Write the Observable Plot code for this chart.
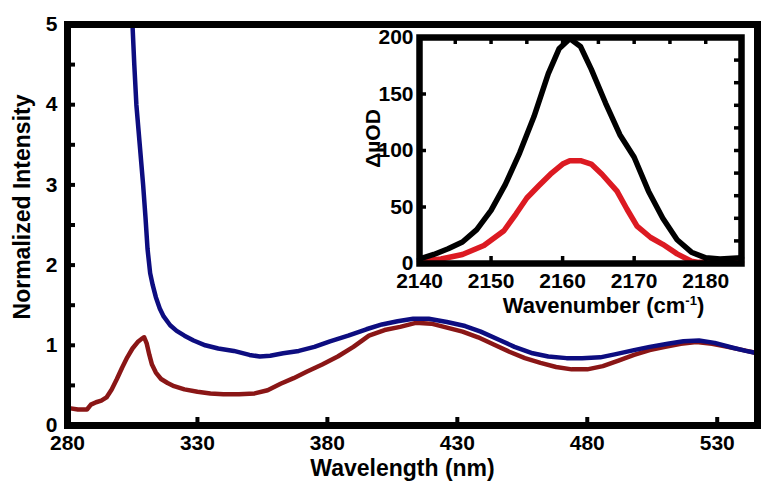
<!DOCTYPE html>
<html>
<head>
<meta charset="utf-8">
<script src="https://cdn.jsdelivr.net/npm/d3@7"></script>
<script src="https://cdn.jsdelivr.net/npm/@observablehq/plot@0.6"></script>
<style>
  html, body { margin: 0; padding: 0; background: white; }
</style>
</head>
<body>
<div id="chart"></div>
<script>
// ---- Main panel data (wavelength nm vs normalized intensity)
const blueWl  = [305, 305.7, 306.5, 307.8, 309.1, 310, 310.8, 311.8, 312.8, 314, 315.5, 317, 319.5, 322, 325, 328.5, 333, 338, 344, 350, 354, 358, 363, 369, 375, 381, 388, 395, 401, 407, 413, 419, 426, 433, 439, 446, 452, 459, 465, 472, 478, 485, 491, 498, 504, 511, 517, 523, 529, 536, 541, 545.5];
const blueInt = [5.0, 4.5, 4.0, 3.5, 3.0, 2.6, 2.2, 1.9, 1.75, 1.6, 1.46, 1.36, 1.25, 1.18, 1.12, 1.06, 1.00, 0.96, 0.93, 0.88, 0.86, 0.87, 0.90, 0.93, 0.98, 1.05, 1.12, 1.20, 1.26, 1.30, 1.33, 1.33, 1.29, 1.24, 1.17, 1.07, 0.98, 0.90, 0.86, 0.84, 0.84, 0.85, 0.89, 0.94, 0.98, 1.02, 1.05, 1.06, 1.03, 0.97, 0.93, 0.90];
const redWl   = [280, 284, 287.5, 289, 291, 293, 295, 297, 299, 301, 303, 305, 307, 308.5, 309.5, 310.5, 311.5, 312.5, 314, 316, 318.5, 321, 325, 330, 335, 340, 346, 352, 357, 362, 367, 372, 378, 384, 390, 396, 402, 408, 414, 420, 426, 432, 438, 444, 450, 456, 462, 468, 474, 480, 486, 492, 498, 504, 510, 516, 522, 528, 534, 540, 545.5];
const redInt  = [0.22, 0.20, 0.20, 0.26, 0.29, 0.31, 0.35, 0.45, 0.58, 0.72, 0.85, 0.96, 1.04, 1.08, 1.10, 1.02, 0.88, 0.76, 0.66, 0.58, 0.53, 0.49, 0.45, 0.42, 0.40, 0.39, 0.39, 0.40, 0.44, 0.52, 0.59, 0.67, 0.76, 0.86, 0.98, 1.12, 1.19, 1.23, 1.28, 1.27, 1.22, 1.17, 1.10, 1.01, 0.92, 0.84, 0.78, 0.73, 0.70, 0.70, 0.74, 0.81, 0.88, 0.94, 0.98, 1.02, 1.04, 1.02, 0.98, 0.94, 0.90];
const mainXDomain = [280, 545.5];
const mainYDomain = [0, 5];
const mainYTicks = [0, 1, 2, 3, 4, 5];
const mainYMinor = [0.5, 1, 1.5, 2, 2.5, 3, 3.5, 4, 4.5];
const mainXTicks = [280, 330, 380, 430, 480, 530];
const mainXMarks = [330, 380, 430, 480, 530];

// ---- Inset data (wavenumber cm-1 vs ΔµOD)
const blackWn  = [2140, 2142, 2144, 2146, 2148, 2150, 2152, 2154, 2156, 2158, 2159.5, 2161, 2162.5, 2164, 2166, 2168, 2170, 2172, 2174, 2176, 2178, 2180, 2182, 2185];
const blackOD  = [4, 8, 13, 19, 30, 47, 70, 98, 130, 168, 190, 199, 192, 172, 142, 114, 94, 64, 40, 21, 10, 5, 4, 5];
const redWn    = [2140, 2143, 2146, 2149, 2151.8, 2153.5, 2155, 2156.7, 2158.3, 2160, 2161, 2162.5, 2164, 2165.5, 2167.6, 2169, 2170.4, 2172.3, 2174, 2176, 2178, 2179, 2185];
const redOD    = [2, 4, 8, 16, 29, 44, 58, 69, 79, 88, 91, 91, 88, 79, 64, 48, 33, 23, 17, 8.5, 2, 1, 1];
const insetXDomain = [2140, 2185];
const insetYDomain = [0, 200];
const insetYTicks = [0, 50, 100, 150, 200];
const insetYLeft  = [50, 100, 150];
const insetYRight = [20, 40, 60, 80, 100, 120, 140, 160, 180];
const insetXTicks = [2140, 2150, 2160, 2170, 2180];
const insetXBottom = [2150, 2160, 2170, 2180];
const insetXTop = [2145, 2150, 2155, 2160, 2165, 2170, 2175, 2180];

const font = "'Liberation Sans', Arial, sans-serif";
const toPts = (xs, ys) => xs.map((x, i) => ({x, y: ys[i]}));
const fmt = d => String(d);

// geometry (px)
const W = 774, H = 494;
const M = {left: 67, right: 17, top: 24, bottom: 69};        // main plot area 67..757 x 24..425
const I = {left: 419, right: 33, top: 37, bottom: 231};      // inset plot area 419..741 x 37..263
const mW = W - M.left - M.right, mH = H - M.top - M.bottom;
const iW = W - I.left - I.right, iH = H - I.top - I.bottom;
const dims = m => ({width: W, height: H, marginLeft: m.left, marginRight: m.right, marginTop: m.top, marginBottom: m.bottom});

// 1) main data + labels
const main = Plot.plot({
  ...dims(M),
  style: {fontFamily: font},
  x: {domain: mainXDomain},
  y: {domain: mainYDomain},
  marks: [
    Plot.line(toPts(redWl, redInt), {x: "x", y: "y", stroke: "#8a1616", strokeWidth: 4.5}),
    Plot.line(toPts(blueWl, blueInt), {x: "x", y: "y", stroke: "#0d0d80", strokeWidth: 4.5}),
    Plot.axisY({ticks: mainYTicks, tickSize: 0, tickPadding: 10, tickFormat: fmt, label: null, fontSize: 21, fontWeight: "bold"}),
    Plot.axisX({ticks: mainXTicks, tickSize: 0, tickPadding: 10, tickFormat: fmt, label: null, fontSize: 21, fontWeight: "bold"}),
    Plot.text(["Wavelength (nm)"], {text: d => d, frameAnchor: "bottom", textAnchor: "middle", lineAnchor: "top", dx: -10, dy: 34, fontSize: 23, fontWeight: "bold"}),
    Plot.text(["Normalized Intensity"], {text: d => d, frameAnchor: "left", textAnchor: "middle", rotate: -90, dx: -45, dy: -18, fontSize: 23, fontWeight: "bold"})
  ]
});

// 2) main frame + inward ticks (own layer, same geometry and scales)
const mainFrame = Plot.plot({
  ...dims(M),
  x: {domain: mainXDomain, axis: null},
  y: {domain: mainYDomain, axis: null},
  marks: [
    Plot.frame({stroke: "black", strokeWidth: 7}),
    Plot.tickY(mainYMinor, {y: d => d, stroke: "black", strokeWidth: 4, insetRight: mW - 8}),
    Plot.tickX(mainXMarks, {x: d => d, stroke: "black", strokeWidth: 4, insetTop: mH - 8})
  ]
});

// 3) inset data + labels
const inset = Plot.plot({
  ...dims(I),
  style: {fontFamily: font},
  x: {domain: insetXDomain},
  y: {domain: insetYDomain},
  marks: [
    Plot.frame({fill: "white", stroke: null}),
    Plot.line(toPts(redWn, redOD), {x: "x", y: "y", stroke: "#dc1a22", strokeWidth: 5.5}),
    Plot.line(toPts(blackWn, blackOD), {x: "x", y: "y", stroke: "black", strokeWidth: 5.5}),
    Plot.axisY({ticks: insetYTicks, tickSize: 0, tickPadding: 6, tickFormat: fmt, label: null, fontSize: 21, fontWeight: "bold"}),
    Plot.axisX({ticks: insetXTicks, tickSize: 0, tickPadding: 10, tickFormat: fmt, label: null, fontSize: 21, fontWeight: "bold"}),
    Plot.text(["Wavenumber (cm-1)"], {text: d => d, frameAnchor: "bottom", textAnchor: "middle", lineAnchor: "top", dx: 23, dy: 34, fontSize: 22, fontWeight: "bold"}),
    Plot.text(["ΔµOD"], {text: d => d, frameAnchor: "left", textAnchor: "middle", rotate: -90, dx: -46, dy: -12, fontSize: 21, fontWeight: "bold"})
  ]
});

// 4) inset frame + inward ticks on all four sides
const insetFrame = Plot.plot({
  ...dims(I),
  x: {domain: insetXDomain, axis: null},
  y: {domain: insetYDomain, axis: null},
  marks: [
    Plot.frame({stroke: "black", strokeWidth: 6.5}),
    Plot.tickY(insetYLeft, {y: d => d, stroke: "black", strokeWidth: 3.5, insetRight: iW - 7}),
    Plot.tickY(insetYRight, {y: d => d, stroke: "black", strokeWidth: 3.5, insetLeft: iW - 7}),
    Plot.tickX(insetXBottom, {x: d => d, stroke: "black", strokeWidth: 3.5, insetTop: iH - 7}),
    Plot.tickX(insetXTop, {x: d => d, stroke: "black", strokeWidth: 3.5, insetBottom: iH - 7})
  ]
});

// superscript for the inset axis title
d3.select(inset).selectAll("text").filter(function() { return this.textContent === "Wavenumber (cm-1)"; })
  .each(function() {
    const t = d3.select(this);
    t.text(null);
    t.append("tspan").text("Wavenumber (cm");
    t.append("tspan").attr("font-size", "13").attr("dy", "-8").text("-1");
    t.append("tspan").attr("dy", "8").text(")");
  });

// stack all layers inside the main SVG
for (const layer of [mainFrame, inset, insetFrame]) {
  layer.setAttribute("x", 0);
  layer.setAttribute("y", 0);
  main.appendChild(layer);
}
document.getElementById("chart").appendChild(main);
</script>
</body>
</html>
